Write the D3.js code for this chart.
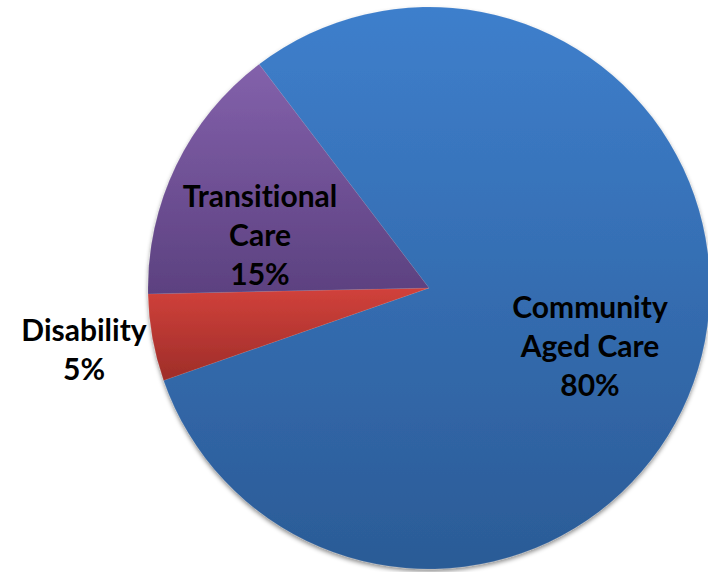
<!DOCTYPE html>
<html>
<head>
<meta charset="utf-8">
<script src="https://cdn.jsdelivr.net/npm/d3@7"></script>
<style>
  html, body { margin: 0; padding: 0; background: #ffffff; }
  svg { display: block; }
  text { font-variant-ligatures: none; font-feature-settings: "liga" 0; }
</style>
</head>
<body>
<svg id="chart" width="708" height="572"></svg>
<script>
// Program share by service type
const categories = ["Community Aged Care", "Disability", "Transitional Care"];
const shares = [80, 5, 15];
const labelLines = [["Community", "Aged Care", "80%"], ["Disability", "5%"], ["Transitional", "Care", "15%"]];

// Fill gradients (top colour, bottom colour) per slice
const gradTop = ["#3e7fcc", "#d1413b", "#8361ab"];
const gradBottom = ["#2b5b96", "#9e2d29", "#5c4180"];

// Layout
const W = 708, H = 572;
const cx = 429, cy = 288, R = 281;
const startDeg = -37.2;
const labelPos = {
  "Community Aged Care": [590, 318],
  "Disability": [84, 341],
  "Transitional Care": [260, 207]
};
const lineGap = 39;

const svg = d3.select("#chart");
const defs = svg.append("defs");

const shadow = defs.append("filter").attr("id", "pieShadow")
  .attr("x", "-10%").attr("y", "-10%").attr("width", "120%").attr("height", "120%");
shadow.append("feDropShadow")
  .attr("dx", 0).attr("dy", 2.5).attr("stdDeviation", 2)
  .attr("flood-color", "#000").attr("flood-opacity", 0.45);

categories.forEach((c, i) => {
  const g = defs.append("linearGradient").attr("id", "grad" + i)
    .attr("x1", 0).attr("y1", 0).attr("x2", 0).attr("y2", 1);
  g.append("stop").attr("offset", "0%").attr("stop-color", gradTop[i]);
  g.append("stop").attr("offset", "100%").attr("stop-color", gradBottom[i]);
});

const rad = d => d * Math.PI / 180;
const pie = d3.pie().sort(null).value(d => d.v)
  .startAngle(rad(startDeg)).endAngle(rad(startDeg + 360));
const arcs = pie(categories.map((c, i) => ({ c, v: shares[i], i })));
const arc = d3.arc().innerRadius(0).outerRadius(R);

const g = svg.append("g").attr("transform", `translate(${cx},${cy})`)
  .attr("filter", "url(#pieShadow)");

g.selectAll("path").data(arcs).join("path")
  .attr("d", arc)
  .attr("fill", d => `url(#grad${d.data.i})`)
  .attr("stroke", "rgba(255,255,255,0.15)")
  .attr("stroke-width", 0.5);

// Labels
const lbl = svg.append("g")
  .attr("font-family", "Lato, 'Open Sans', sans-serif")
  .attr("font-weight", "bold")
  .attr("font-size", 30)
  .attr("fill", "#000")
  .attr("text-anchor", "middle");

categories.forEach((c, i) => {
  const [x, y] = labelPos[c];
  const t = lbl.append("text");
  labelLines[i].forEach((line, k) => {
    t.append("tspan").attr("x", x).attr("y", y + k * lineGap).text(line);
  });
});
</script>
</body>
</html>
